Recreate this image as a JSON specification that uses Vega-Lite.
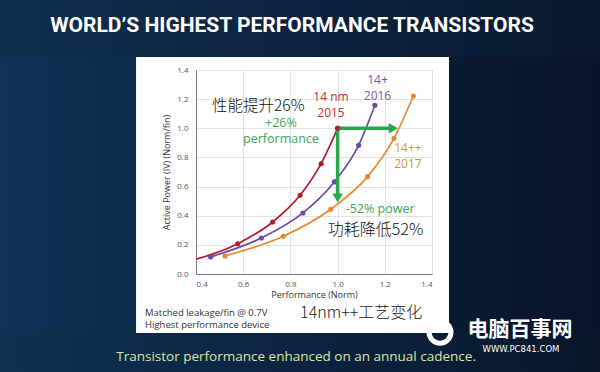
{
  "$schema": "https://vega.github.io/schema/vega-lite/v6.json",
  "width": 236,
  "height": 204,
  "autosize": {"type": "none"},
  "padding": {"left": 196, "top": 70, "right": 168, "bottom": 98},
  "background": "#ffffff",
  "config": {
    "view": {"stroke": "#9a9a9a", "strokeWidth": 1},
    "font": "Open Sans",
    "axis": {
      "ticks": false,
      "domainColor": "#7a7a7a",
      "gridColor": "#e2e2e2",
      "labelFont": "Open Sans",
      "labelFontSize": 8,
      "labelColor": "#555555",
      "titleFont": "Open Sans",
      "titleFontSize": 9,
      "titleFontWeight": "normal",
      "titleColor": "#333333"
    }
  },
  "resolve": {"axis": {"x": "independent", "y": "independent"}},
  "datasets": {
    "curves": [
      {"process": "14 nm (2015)", "performance": 0.35, "power": 0.08},
      {"process": "14 nm (2015)", "performance": 0.577, "power": 0.208},
      {"process": "14 nm (2015)", "performance": 0.725, "power": 0.357},
      {"process": "14 nm (2015)", "performance": 0.841, "power": 0.54},
      {"process": "14 nm (2015)", "performance": 0.93, "power": 0.757},
      {"process": "14 nm (2015)", "performance": 1.0, "power": 1.0},
      {"process": "14+ (2016)", "performance": 0.462, "power": 0.117},
      {"process": "14+ (2016)", "performance": 0.677, "power": 0.247},
      {"process": "14+ (2016)", "performance": 0.853, "power": 0.419},
      {"process": "14+ (2016)", "performance": 0.986, "power": 0.632},
      {"process": "14+ (2016)", "performance": 1.089, "power": 0.883},
      {"process": "14+ (2016)", "performance": 1.158, "power": 1.158},
      {"process": "14++ (2017)", "performance": 0.523, "power": 0.124},
      {"process": "14++ (2017)", "performance": 0.77, "power": 0.259},
      {"process": "14++ (2017)", "performance": 0.971, "power": 0.444},
      {"process": "14++ (2017)", "performance": 1.127, "power": 0.668},
      {"process": "14++ (2017)", "performance": 1.239, "power": 0.931},
      {"process": "14++ (2017)", "performance": 1.321, "power": 1.222}
    ]
  },
  "layer": [
    {
      "data": {"name": "curves"},
      "mark": {"type": "line", "interpolate": "monotone", "strokeWidth": 1.7, "clip": true},
      "encoding": {
        "x": {
          "field": "performance", "type": "quantitative",
          "scale": {"domain": [0.4, 1.4], "nice": false, "zero": false},
          "axis": {"title": "Performance (Norm)", "values": [0.4, 0.6, 0.8, 1.0, 1.2, 1.4], "format": ".1f", "labelPadding": 6, "titlePadding": 2, "labelOverlap": false}
        },
        "y": {
          "field": "power", "type": "quantitative",
          "scale": {"domain": [0, 1.4], "nice": false, "zero": false},
          "axis": {"title": "Active Power (IV) (Norm/fin)", "values": [0, 0.2, 0.4, 0.6, 0.8, 1.0, 1.2, 1.4], "format": ".1f", "labelPadding": 8, "titlePadding": 5, "labelOverlap": false}
        },
        "color": {
          "field": "process", "type": "nominal",
          "scale": {"domain": ["14 nm (2015)", "14+ (2016)", "14++ (2017)"], "range": ["#b01a2b", "#6b4aa8", "#e38b2c"]},
          "legend": null
        },
        "order": {"field": "performance", "type": "quantitative"}
      }
    },
    {
      "data": {"name": "curves"},
      "mark": {"type": "point", "filled": true, "size": 26, "opacity": 1, "clip": true},
      "encoding": {
        "x": {"field": "performance", "type": "quantitative", "axis": null},
        "y": {"field": "power", "type": "quantitative", "axis": null},
        "color": {"field": "process", "type": "nominal"}
      }
    },
    {
      "data": {"values": [{}]},
      "layer": [
        {"mark": {"type": "rule", "color": "#27a84a", "strokeWidth": 3.5},
         "encoding": {"x": {"datum": 1.0, "axis": null}, "x2": {"datum": 1.236}, "y": {"datum": 1.0, "axis": null}}},
        {"mark": {"type": "rule", "color": "#27a84a", "strokeWidth": 3.5},
         "encoding": {"x": {"datum": 1.0, "axis": null}, "y": {"datum": 1.0, "axis": null}, "y2": {"datum": 0.521}}},
        {"mark": {"type": "point", "shape": "triangle-right", "filled": true, "color": "#27a84a", "size": 110, "opacity": 1},
         "encoding": {"x": {"datum": 1.236, "axis": null}, "y": {"datum": 1.0, "axis": null}}},
        {"mark": {"type": "point", "shape": "triangle-down", "filled": true, "color": "#27a84a", "size": 110, "opacity": 1},
         "encoding": {"x": {"datum": 1.0, "axis": null}, "y": {"datum": 0.521, "axis": null}}},
        {"mark": {"type": "point", "filled": true, "color": "#b01a2b", "size": 26, "opacity": 1},
         "encoding": {"x": {"datum": 1.0, "axis": null}, "y": {"datum": 1.0, "axis": null}}},

        {"mark": {"type": "rect", "fill": {"gradient": "linear", "x1": 0, "y1": 0, "x2": 1, "y2": 0, "stops": [{"offset": 0, "color": "#0f2f50"}, {"offset": 0.5, "color": "#0b2340"}, {"offset": 1, "color": "#09172c"}]}},
         "encoding": {"x": {"datum": -0.5, "axis": null}, "x2": {"datum": 2.2}, "y": {"datum": 1.489, "axis": null}, "y2": {"datum": 2.0}}},
        {"mark": {"type": "rect", "fill": {"gradient": "linear", "x1": 0, "y1": 0, "x2": 1, "y2": 0, "stops": [{"offset": 0, "color": "#0f3152"}, {"offset": 0.5, "color": "#0b2440"}, {"offset": 1, "color": "#09152a"}]}},
         "encoding": {"x": {"datum": -0.5, "axis": null}, "x2": {"datum": 2.2}, "y": {"datum": -0.8, "axis": null}, "y2": {"datum": -0.405}}},
        {"mark": {"type": "rect", "fill": {"gradient": "linear", "x1": 0, "y1": 0, "x2": 1, "y2": 0, "stops": [{"offset": 0, "color": "#103357"}, {"offset": 1, "color": "#0d2b4b"}]}},
         "encoding": {"x": {"datum": -0.5, "axis": null}, "x2": {"datum": 0.146}, "y": {"datum": -0.405, "axis": null}, "y2": {"datum": 1.489}}},
        {"mark": {"type": "rect", "fill": {"gradient": "linear", "x1": 0, "y1": 0, "x2": 1, "y2": 0, "stops": [{"offset": 0, "color": "#0a1a31"}, {"offset": 1, "color": "#08132a"}]}},
         "encoding": {"x": {"datum": 1.472, "axis": null}, "x2": {"datum": 2.2}, "y": {"datum": -0.405, "axis": null}, "y2": {"datum": 1.489}}},

        {"mark": {"type": "text", "text": "WORLD’S HIGHEST PERFORMANCE TRANSISTORS", "font": "Roboto", "fontWeight": "bold", "fontSize": 21, "color": "#ffffff", "align": "center", "baseline": "middle"},
         "encoding": {"x": {"datum": 0.807, "axis": null}, "y": {"datum": 1.702, "axis": null}}},
        {"mark": {"type": "text", "text": "Transistor performance enhanced on an annual cadence.", "font": "Open Sans", "fontSize": 13.5, "color": "#d9e6a1", "align": "center", "baseline": "middle"},
         "encoding": {"x": {"datum": 0.824, "axis": null}, "y": {"datum": -0.57, "axis": null}}},
        {"mark": {"type": "text", "text": "Matched leakage/fin @ 0.7V", "font": "Open Sans", "fontSize": 9.5, "color": "#333333", "align": "left", "baseline": "middle"},
         "encoding": {"x": {"datum": 0.184, "axis": null}, "y": {"datum": -0.268, "axis": null}}},
        {"mark": {"type": "text", "text": "Highest performance device", "font": "Open Sans", "fontSize": 9.5, "color": "#333333", "align": "left", "baseline": "middle"},
         "encoding": {"x": {"datum": 0.184, "axis": null}, "y": {"datum": -0.35, "axis": null}}},
        {"mark": {"type": "text", "text": "14nm++工艺变化", "font": "Noto Sans CJK SC", "fontWeight": 300, "fontSize": 16, "color": "#222222", "align": "left", "baseline": "middle"},
         "encoding": {"x": {"datum": 0.841, "axis": null}, "y": {"datum": -0.266, "axis": null}}},
        {"mark": {"type": "text", "text": "性能提升26%", "font": "Noto Sans CJK SC", "fontWeight": 300, "fontSize": 15.5, "color": "#111111", "align": "left", "baseline": "middle"},
         "encoding": {"x": {"datum": 0.468, "axis": null}, "y": {"datum": 1.156, "axis": null}}},
        {"mark": {"type": "text", "text": "功耗降低52%", "font": "Noto Sans CJK SC", "fontWeight": 300, "fontSize": 16, "color": "#111111", "align": "center", "baseline": "middle"},
         "encoding": {"x": {"datum": 1.161, "axis": null}, "y": {"datum": 0.303, "axis": null}}},
        {"mark": {"type": "text", "text": "14 nm", "font": "Open Sans", "fontSize": 12, "color": "#d02a30", "align": "center", "baseline": "middle"},
         "encoding": {"x": {"datum": 0.972, "axis": null}, "y": {"datum": 1.218, "axis": null}}},
        {"mark": {"type": "text", "text": "2015", "font": "Open Sans", "fontSize": 12, "color": "#d02a30", "align": "center", "baseline": "middle"},
         "encoding": {"x": {"datum": 0.972, "axis": null}, "y": {"datum": 1.108, "axis": null}}},
        {"mark": {"type": "text", "text": "14+", "font": "Open Sans", "fontSize": 12, "color": "#7b56b4", "align": "center", "baseline": "middle"},
         "encoding": {"x": {"datum": 1.169, "axis": null}, "y": {"datum": 1.334, "axis": null}}},
        {"mark": {"type": "text", "text": "2016", "font": "Open Sans", "fontSize": 12, "color": "#7b56b4", "align": "center", "baseline": "middle"},
         "encoding": {"x": {"datum": 1.169, "axis": null}, "y": {"datum": 1.224, "axis": null}}},
        {"mark": {"type": "text", "text": "14++", "font": "Open Sans", "fontSize": 12, "color": "#d4923a", "align": "center", "baseline": "middle"},
         "encoding": {"x": {"datum": 1.298, "axis": null}, "y": {"datum": 0.867, "axis": null}}},
        {"mark": {"type": "text", "text": "2017", "font": "Open Sans", "fontSize": 12, "color": "#d4923a", "align": "center", "baseline": "middle"},
         "encoding": {"x": {"datum": 1.298, "axis": null}, "y": {"datum": 0.753, "axis": null}}},
        {"mark": {"type": "text", "text": "+26%", "font": "Open Sans", "fontSize": 12.5, "color": "#35a85c", "align": "center", "baseline": "middle"},
         "encoding": {"x": {"datum": 0.76, "axis": null}, "y": {"datum": 1.037, "axis": null}}},
        {"mark": {"type": "text", "text": "performance", "font": "Open Sans", "fontSize": 12.5, "color": "#35a85c", "align": "center", "baseline": "middle"},
         "encoding": {"x": {"datum": 0.76, "axis": null}, "y": {"datum": 0.926, "axis": null}}},
        {"mark": {"type": "text", "text": "-52% power", "font": "Open Sans", "fontSize": 12.5, "color": "#35a85c", "align": "center", "baseline": "middle"},
         "encoding": {"x": {"datum": 1.18, "axis": null}, "y": {"datum": 0.447, "axis": null}}},

        {"mark": {"type": "point", "shape": "circle", "filled": false, "stroke": "#ffffff", "strokeWidth": 5, "size": 480, "opacity": 1},
         "encoding": {"x": {"datum": 1.434, "axis": null}, "y": {"datum": -0.4, "axis": null}}},
        {"mark": {"type": "text", "text": "电脑百事网", "font": "Noto Sans CJK SC", "fontWeight": "bold", "fontSize": 21, "color": "#ffffff", "align": "center", "baseline": "middle"},
         "encoding": {"x": {"datum": 1.773, "axis": null}, "y": {"datum": -0.385, "axis": null}}},
        {"mark": {"type": "text", "text": "WWW.PC841.COM", "font": "DejaVu Sans", "fontSize": 8.5, "color": "#ffffff", "align": "center", "baseline": "middle"},
         "encoding": {"x": {"datum": 1.777, "axis": null}, "y": {"datum": -0.515, "axis": null}}}
      ]
    }
  ]
}
